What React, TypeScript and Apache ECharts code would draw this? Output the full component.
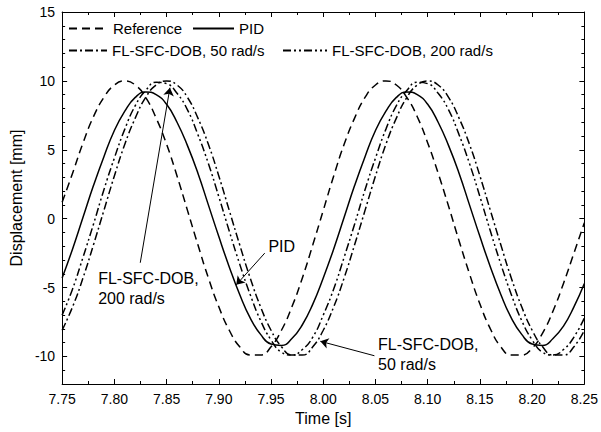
import React, { useEffect, useRef } from "react";
import * as echarts from "echarts";

const FONT = "'Liberation Sans', Arial, Helvetica, sans-serif";

const TIMES = [
  7.75, 7.76, 7.77, 7.78, 7.79, 7.8, 7.81, 7.82, 7.83, 7.84,
  7.85, 7.86, 7.87, 7.88, 7.89, 7.9, 7.91, 7.92, 7.93, 7.94,
  7.95, 7.96, 7.97, 7.98, 7.99, 8.0, 8.01, 8.02, 8.03, 8.04,
  8.05, 8.06, 8.07, 8.08, 8.09, 8.1, 8.11, 8.12, 8.13, 8.14,
  8.15, 8.16, 8.17, 8.18, 8.19, 8.2, 8.21, 8.22, 8.23, 8.24, 8.25,
];

const REFERENCE = [
  1.2, 3.3, 5.5, 7.4, 8.8, 9.7, 10.0, 9.7, 8.8, 7.3,
  5.4, 3.1, 0.6, -1.9, -4.3, -6.4, -8.1, -9.3, -9.9, -9.9,
  -9.3, -8.1, -6.4, -4.3, -1.9, 0.6, 3.1, 5.4, 7.3, 8.8,
  9.7, 10.0, 9.7, 8.8, 7.4, 5.5, 3.3, 0.9, -1.6, -4.0,
  -6.2, -8.0, -9.3, -9.9, -9.9, -9.4, -8.3, -6.7, -4.7, -2.5, -0.3,
];

const PID = [
  -4.3, -2.2, 0.1, 2.4, 4.5, 6.4, 7.8, 8.8, 9.2, 9.0,
  8.3, 7.0, 5.3, 3.3, 1.0, -1.3, -3.5, -5.5, -7.2, -8.4,
  -9.1, -9.2, -8.7, -7.7, -6.2, -4.3, -2.2, 0.1, 2.4, 4.5,
  6.4, 7.8, 8.8, 9.2, 9.0, 8.3, 7.0, 5.3, 3.3, 1.0,
  -1.3, -3.5, -5.5, -7.2, -8.4, -9.1, -9.2, -8.7, -7.8, -6.4, -4.7,
];

const DOB_50 = [
  -8.1, -6.4, -4.3, -1.9, 0.6, 3.1, 5.4, 7.3, 8.8, 9.7,
  10.0, 9.7, 8.8, 7.3, 5.4, 3.1, 0.6, -1.9, -4.3, -6.4,
  -8.1, -9.3, -9.9, -9.9, -9.3, -8.1, -6.4, -4.3, -1.9, 0.6,
  3.1, 5.4, 7.3, 8.8, 9.7, 10.0, 9.7, 8.8, 7.3, 5.4,
  3.1, 0.6, -1.9, -4.3, -6.4, -8.1, -9.3, -9.9, -9.9, -9.3, -8.1,
];

const DOB_200 = [
  -7.0, -5.1, -2.8, -0.4, 2.1, 4.4, 6.5, 8.2, 9.3, 9.9,
  9.8, 9.1, 7.9, 6.1, 4.0, 1.6, -0.9, -3.3, -5.5, -7.4,
  -8.8, -9.7, -9.9, -9.5, -8.6, -7.0, -5.1, -2.8, -0.4, 2.1,
  4.4, 6.5, 8.2, 9.3, 9.9, 9.8, 9.1, 7.9, 6.1, 4.0,
  1.6, -0.9, -3.3, -5.5, -7.4, -8.8, -9.7, -9.9, -9.5, -8.6, -7.2,
];

const SERIES_NAMES = ["Reference", "PID", "FL-SFC-DOB, 50 rad/s", "FL-SFC-DOB, 200 rad/s"];

const Y_MAJOR = [-10, -5, 0, 5, 10, 15];
const Y_MINOR = [-11, -9, -8, -7, -6, -4, -3, -2, -1, 1, 2, 3, 4, 6, 7, 8, 9, 11, 12, 13, 14];

// annotation texts (anchor = left edge / vertical middle, in data coords)
const NOTE_TEXTS = ["PID", "FL-SFC-DOB,\n200 rad/s", "FL-SFC-DOB,\n50 rad/s"];
const NOTE_AT = [
  [7.947, -2.0],
  [7.784, -5.1],
  [8.052, -9.85],
];
// arrows: from -> to (data coords)
const ARROW_FROM = [
  [7.944, -2.5],
  [7.8248, -3.2],
  [8.049, -9.95],
];
const ARROW_TO = [
  [7.9167, -4.8],
  [7.8532, 9.5],
  [7.9972, -8.9],
];

function App() {
  const ref = useRef<HTMLDivElement>(null);

  useEffect(() => {
    if (!ref.current) return;
    const chart = echarts.init(ref.current, undefined, { renderer: "svg" });

    const black = "#000";
    const legendCommon = {
      padding: 0,
      itemHeight: 12,
      selectedMode: false,
      itemStyle: { opacity: 0 },
      textStyle: { fontSize: 15, color: black, fontFamily: FONT },
    };

    const xCommon = {
      type: "value",
      min: 7.75,
      max: 8.25,
      interval: 0.05,
      splitLine: { show: false },
      axisLine: { show: true, onZero: false, lineStyle: { color: black, width: 1 } },
      axisTick: { show: true, inside: true, length: 5, lineStyle: { color: black } },
      minorTick: { show: true, splitNumber: 2, length: 3, lineStyle: { color: black } },
    };

    const yMajor = {
      type: "value",
      min: -12,
      max: 15,
      splitLine: { show: false },
      axisLine: { show: true, onZero: false, lineStyle: { color: black, width: 1 } },
      axisTick: { show: true, inside: true, length: 5, customValues: Y_MAJOR, lineStyle: { color: black } },
    };
    const yMinor = {
      type: "value",
      min: -12,
      max: 15,
      splitLine: { show: false },
      axisLine: { show: false },
      axisLabel: { show: false },
      axisTick: { show: true, inside: true, length: 3, customValues: Y_MINOR, lineStyle: { color: black } },
    };

    const styles = [
      { type: [8, 5], width: 1.5 },
      { type: "solid", width: 1.5 },
      { type: [8, 3, 2, 3], width: 1.5 },
      { type: [8, 3, 2, 3, 2, 3], width: 1.5 },
    ];
    const values = [REFERENCE, PID, DOB_50, DOB_200];

    const series: any[] = SERIES_NAMES.map((name, si) => ({
      name,
      type: "line",
      symbol: "none",
      smooth: true,
      xAxisIndex: 0,
      yAxisIndex: 0,
      color: black,
      lineStyle: { color: black, ...styles[si] },
      data: TIMES.map((t, i) => [t, values[si][i]]),
    }));

    series[1].markLine = {
      silent: true,
      animation: false,
      symbol: ["none", "arrow"],
      symbolSize: 8,
      lineStyle: { color: black, width: 1, type: "solid" },
      label: { show: false },
      emphasis: { disabled: true },
      data: ARROW_FROM.map((f, i) => [{ coord: f }, { coord: ARROW_TO[i] }]),
    };
    series[1].markPoint = {
      silent: true,
      animation: false,
      symbol: "circle",
      symbolSize: 1,
      itemStyle: { color: "transparent" },
      label: {
        show: true,
        position: "right",
        distance: 0,
        color: black,
        fontSize: 16,
        lineHeight: 20,
        fontFamily: FONT,
      },
      data: NOTE_AT.map((c, i) => ({
        coord: c,
        value: 0,
        label: { formatter: NOTE_TEXTS[i] },
      })),
    };

    chart.setOption({
      animation: false,
      backgroundColor: "#fff",
      textStyle: { fontFamily: FONT },
      grid: { left: 59, right: 14, top: 12, bottom: 48 },
      legend: [
        { ...legendCommon, data: [SERIES_NAMES[0]], left: 68, top: 21, itemWidth: 39 },
        { ...legendCommon, data: [SERIES_NAMES[1]], left: 192, top: 21, itemWidth: 41 },
        { ...legendCommon, data: [SERIES_NAMES[2]], left: 68, top: 43, itemWidth: 38 },
        { ...legendCommon, data: [SERIES_NAMES[3]], left: 282, top: 43, itemWidth: 44 },
      ],
      xAxis: [
        {
          ...xCommon,
          position: "bottom",
          name: "Time [s]",
          nameLocation: "middle",
          nameGap: 21,
          nameTextStyle: { fontSize: 16, color: black, fontFamily: FONT },
          axisLabel: {
            margin: 8,
            color: black,
            fontSize: 14,
            fontFamily: FONT,
            formatter: (v: number) => v.toFixed(2),
          },
        },
        { ...xCommon, position: "top", axisLabel: { show: false } },
      ],
      yAxis: [
        {
          ...yMajor,
          position: "left",
          name: "Displacement [mm]",
          nameLocation: "middle",
          nameGap: 38,
          nameTextStyle: { fontSize: 16, color: black, fontFamily: FONT },
          axisLabel: {
            customValues: Y_MAJOR,
            margin: 7,
            color: black,
            fontSize: 14,
            fontFamily: FONT,
          },
        },
        { ...yMinor, position: "left" },
        { ...yMajor, position: "right", axisLabel: { show: false } },
        { ...yMinor, position: "right" },
      ],
      series,
    });

    return () => chart.dispose();
  }, []);

  return (
    <div
      ref={ref}
      style={{ position: "fixed", left: 0, top: 0, width: 601, height: 432, background: "#fff" }}
    />
  );
}

export default App;
